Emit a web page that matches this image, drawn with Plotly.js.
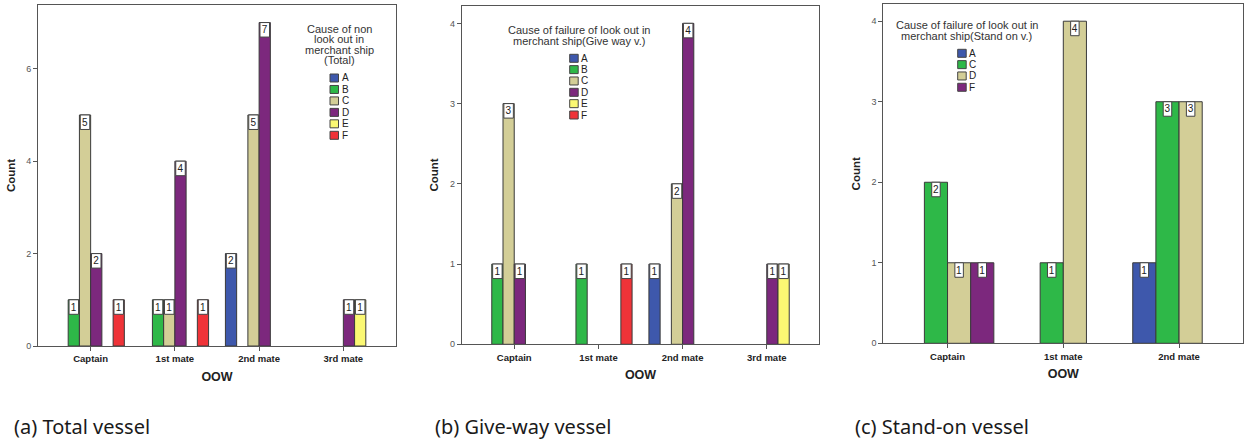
<!DOCTYPE html>
<html><head><meta charset="utf-8">
<script src="https://cdn.plot.ly/plotly-3.0.1.min.js"></script>
<style>html,body{margin:0;padding:0;background:#fff}#chart{width:1245px;height:441px}</style>
</head><body><div id="chart"></div>
<script>
// ---------------- data ----------------
const officers4 = ['Captain', '1st mate', '2nd mate', '3rd mate'];
const officers3 = ['Captain', '1st mate', '2nd mate'];

// (a) Total vessel
const totalCauses = ['A', 'B', 'C', 'D', 'E', 'F'];
const totalA = [null, null, 2, null];
const totalB = [1, 1, null, null];
const totalC = [5, 1, 5, null];
const totalD = [2, 4, 7, 1];
const totalE = [null, null, null, 1];
const totalF = [1, 1, null, null];

// (b) Give-way vessel
const giveCauses = ['A', 'B', 'C', 'D', 'E', 'F'];
const giveA = [null, null, 1, null];
const giveB = [1, 1, null, null];
const giveC = [3, null, 2, null];
const giveD = [1, null, 4, 1];
const giveE = [null, null, null, 1];
const giveF = [null, 1, null, null];

// (c) Stand-on vessel
const standCauses = ['A', 'C', 'D', 'F'];
const standA = [null, null, 1];
const standC = [2, 1, 3];
const standD = [1, 4, 3];
const standF = [1, null, null];

const legendTitleTotal = ['Cause of non', 'look out in', 'merchant ship', '(Total)'];
const legendTitleGive = ['Cause of failure of look out in', 'merchant ship(Give way v.)'];
const legendTitleStand = ['Cause of failure of look out in', 'merchant ship(Stand on v.)'];
const captions = ['(a) Total vessel', '(b) Give-way vessel', '(c) Stand-on vessel'];
const xTitle = 'OOW';
const yTitle = 'Count';

// ---------------- styles ----------------
const W = 1245, H = 441;
const px = x => x / W;
const py = y => 1 - y / H;
const BLUE = '#3e58ac', GREEN = '#2eb848', TAN = '#d3ce97', PURPLE = '#7c287d', YELLOW = '#fbf873', RED = '#ef3338';
const FONT = 'Liberation Sans, Arial, sans-serif';

const panels = [
  { id: 'a', xa: 'x', ya: 'y', cats: officers4, causes: totalCauses,
    series: [totalA, totalB, totalC, totalD, totalE, totalF],
    colors: [BLUE, GREEN, TAN, PURPLE, YELLOW, RED],
    frame: [38, 396, 5, 346], yr: 7.38, dtick: 2, xr: [-0.625, 3.625],
    boxW: 9.5 / 84.2, boxH: 14.5 / 46.2,
    legTitle: legendTitleTotal, legTitleX: 339, legTitleY: 29, legTitleStep: 10.45,
    legSqX: 330, legY: 78, legStep: 11.46, caption: captions[0], capX: 12 },
  { id: 'b', xa: 'x2', ya: 'y2', cats: officers4, causes: giveCauses,
    series: [giveA, giveB, giveC, giveD, giveE, giveF],
    colors: [BLUE, GREEN, TAN, PURPLE, YELLOW, RED],
    frame: [461.7, 819.3, 5.7, 344.3], yr: 4.22, dtick: 1, xr: [-0.624, 3.624],
    boxW: 9.5 / 84.2, boxH: 14.5 / 80.2,
    legTitle: legendTitleGive, legTitleX: 579.3, legTitleY: 30, legTitleStep: 11,
    legSqX: 569.7, legY: 58.3, legStep: 11.34, caption: captions[1], capX: 433 },
  { id: 'c', xa: 'x3', ya: 'y3', cats: officers3, causes: standCauses,
    series: [standA, standC, standD, standF],
    colors: [BLUE, GREEN, TAN, PURPLE],
    frame: [883.3, 1243.3, 4.3, 343.3], yr: 4.21, dtick: 1, xr: [-0.555, 2.555],
    boxW: 8.5 / 115.8, boxH: 14.5 / 80.5,
    legTitle: legendTitleStand, legTitleX: 966.7, legTitleY: 25, legTitleStep: 10.7,
    legSqX: 957.7, legY: 53.3, legStep: 11.33, caption: captions[2], capX: 853 }
];

const traces = [];
const labelTraces = [];
const shapes = [];
const annotations = [];
const layout = {
  width: W, height: H, margin: { l: 0, r: 0, t: 0, b: 0 },
  paper_bgcolor: '#fff', plot_bgcolor: '#fff',
  barmode: 'group', bargap: 0.2, bargroupgap: 0,
  showlegend: false, font: { family: FONT, color: '#222' }
};

panels.forEach((p, k) => {
  const [fx0, fx1, fy0, fy1] = p.frame;
  const xKey = 'xaxis' + (k ? k + 1 : ''), yKey = 'yaxis' + (k ? k + 1 : '');
  layout[xKey] = {
    domain: [px(fx0), px(fx1)], anchor: p.ya, type: 'category', range: p.xr,
    showline: true, linecolor: '#555', linewidth: 1, mirror: true,
    ticks: 'outside', ticklen: 4, tickcolor: '#555', showgrid: false, zeroline: false,
    tickfont: { family: FONT, size: 9.5, weight: 'bold', color: '#222' },
    title: { text: xTitle, font: { family: FONT, size: 12.5, weight: 'bold', color: '#222' }, standoff: 8 },
    fixedrange: true
  };
  layout[yKey] = {
    domain: [py(fy1), py(fy0)], anchor: p.xa, range: [0, p.yr], dtick: p.dtick, tick0: 0,
    showline: true, linecolor: '#555', linewidth: 1, mirror: true,
    ticks: 'outside', ticklen: 4, tickcolor: '#555', showgrid: false, zeroline: false,
    tickfont: { family: FONT, size: 9, color: '#555' },
    title: { text: yTitle, font: { family: FONT, size: 11.5, weight: 'bold', color: '#222' }, standoff: 8 },
    fixedrange: true
  };

  p.series.forEach((vals, i) => {
    const grp = p.id + '_' + p.causes[i];
    traces.push({
      type: 'bar', name: p.causes[i], x: p.cats, y: vals, xaxis: p.xa, yaxis: p.ya,
      offsetgroup: grp, alignmentgroup: p.id,
      marker: { color: p.colors[i], line: { color: '#3a3a3a', width: 1 } },
      hoverinfo: 'skip', showlegend: false
    });
    labelTraces.push({
      type: 'bar', name: p.causes[i] + ' label', x: p.cats,
      y: vals.map(v => v == null ? null : p.boxH),
      base: vals.map(v => v == null ? null : v - p.boxH),
      width: p.boxW, xaxis: p.xa, yaxis: p.ya,
      offsetgroup: grp, alignmentgroup: p.id,
      text: vals.map(v => v == null ? '' : String(v)),
      textposition: 'inside', insidetextanchor: 'middle', textangle: 0, constraintext: 'none',
      textfont: { family: FONT, size: 10, color: '#222' },
      marker: { color: '#ffffff', line: { color: '#444', width: 1 } },
      hoverinfo: 'skip', showlegend: false
    });

    // legend entry
    const cy = p.legY + i * p.legStep;
    shapes.push({
      type: 'rect', xref: 'paper', yref: 'paper',
      x0: px(p.legSqX), x1: px(p.legSqX + 8.5), y0: py(cy + 4), y1: py(cy - 4),
      fillcolor: p.colors[i], line: { color: '#444', width: 1 }
    });
    annotations.push({
      xref: 'paper', yref: 'paper', x: px(p.legSqX + 9.5), y: py(cy),
      xanchor: 'left', yanchor: 'middle', showarrow: false, text: p.causes[i],
      font: { family: FONT, size: 10, color: '#222' }
    });
  });

  p.legTitle.forEach((line, j) => {
    annotations.push({
      xref: 'paper', yref: 'paper', x: px(p.legTitleX), y: py(p.legTitleY + j * p.legTitleStep),
      xanchor: 'center', yanchor: 'middle', showarrow: false, text: line,
      font: { family: FONT, size: 11, color: '#333' }
    });
  });

  annotations.push({
    xref: 'paper', yref: 'paper', x: px(p.capX), y: py(426),
    xanchor: 'left', yanchor: 'middle', showarrow: false, text: p.caption,
    font: { family: 'Noto Sans, sans-serif', size: 20, color: '#1a1a1a' }
  });
});

layout.shapes = shapes;
layout.annotations = annotations;

Plotly.newPlot('chart', traces.concat(labelTraces), layout, { displayModeBar: false, staticPlot: true });
</script>
</body></html>
